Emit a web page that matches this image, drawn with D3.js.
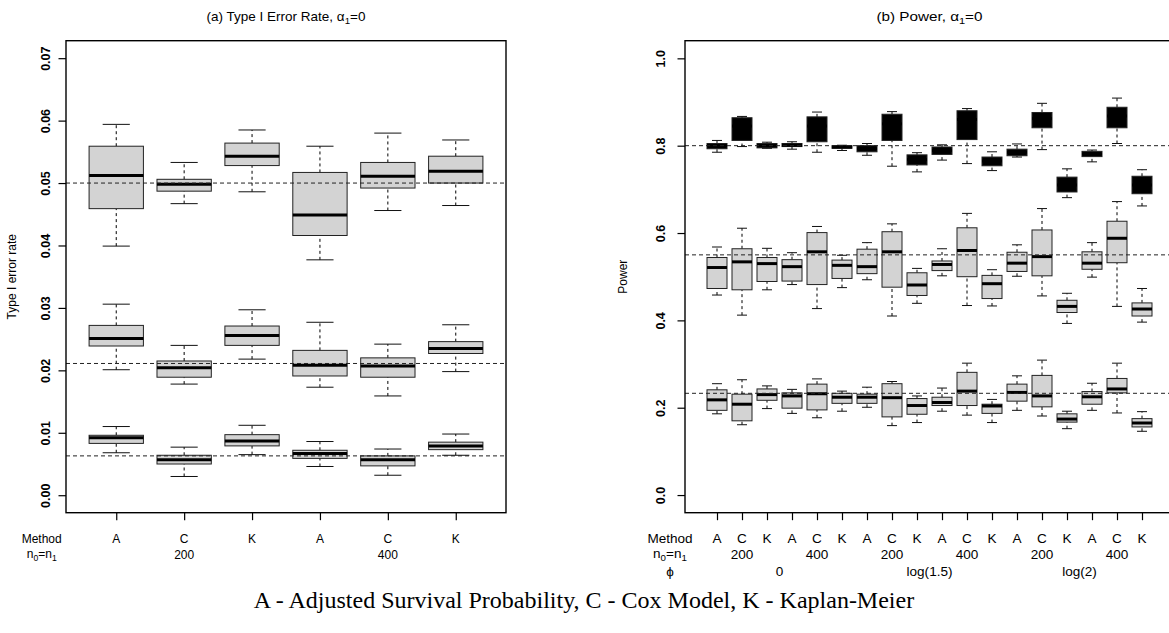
<!DOCTYPE html>
<html>
<head>
<meta charset="utf-8">
<script src="https://cdn.jsdelivr.net/npm/d3@7"></script>
<style>
body { margin: 0; background: #fff; }
svg { display: block; }
text { font-family: "Liberation Sans", Arial, Helvetica, sans-serif; fill: #000; }
</style>
</head>
<body>
<svg id="chart" width="1169" height="633"></svg>
<script>
// box stats: [lower whisker, Q1, median, Q3, upper whisker]
const methodsLeft = ["A", "C", "K", "A", "C", "K"];
const nLeft = [[2, "200"], [5, "400"]];
const typeI_top = [
	[0.0399, 0.0459, 0.0512, 0.0559, 0.0594],
	[0.0467, 0.0487, 0.0498, 0.0506, 0.0533],
	[0.0486, 0.0528, 0.0543, 0.0564, 0.0585],
	[0.0377, 0.0416, 0.0449, 0.0517, 0.0559],
	[0.0456, 0.0492, 0.0511, 0.0533, 0.0580],
	[0.0464, 0.0500, 0.0519, 0.0543, 0.0569]
];
const typeI_mid = [
	[0.0201, 0.0239, 0.0251, 0.0272, 0.0306],
	[0.0178, 0.0189, 0.0204, 0.0215, 0.0240],
	[0.0218, 0.0240, 0.0256, 0.0271, 0.0297],
	[0.0173, 0.0191, 0.0208, 0.0232, 0.0277],
	[0.0159, 0.0189, 0.0207, 0.0220, 0.0242],
	[0.0198, 0.0227, 0.0235, 0.0246, 0.0273]
];
const typeI_low = [
	[0.0068, 0.0083, 0.0092, 0.0096, 0.0110],
	[0.0030, 0.0050, 0.0057, 0.0064, 0.0077],
	[0.0065, 0.0079, 0.0087, 0.0097, 0.0112],
	[0.0046, 0.0059, 0.0067, 0.0072, 0.0086],
	[0.0032, 0.0047, 0.0057, 0.0063, 0.0074],
	[0.0064, 0.0073, 0.0079, 0.0085, 0.0098]
];
const refLeft = [0.05, 0.0211, 0.0063];

const methodsRight = ["A","C","K","A","C","K","A","C","K","A","C","K","A","C","K","A","C","K"];
const nRight = [[2, "200"], [5, "400"], [8, "200"], [11, "400"], [14, "200"], [17, "400"]];
const phiRight = [[3.5, "0"], [9.5, "log(1.5)"], [15.5, "log(2)"]];
const power_top = [
	[0.785, 0.793, 0.800, 0.805, 0.812],
	[0.798, 0.812, 0.845, 0.864, 0.867],
	[0.794, 0.795, 0.800, 0.805, 0.808],
	[0.792, 0.798, 0.801, 0.805, 0.809],
	[0.785, 0.809, 0.845, 0.866, 0.877],
	[0.789, 0.794, 0.797, 0.800, 0.801],
	[0.778, 0.786, 0.793, 0.800, 0.805],
	[0.753, 0.812, 0.850, 0.872, 0.878],
	[0.740, 0.756, 0.768, 0.779, 0.784],
	[0.767, 0.780, 0.789, 0.797, 0.802],
	[0.759, 0.814, 0.860, 0.880, 0.885],
	[0.743, 0.754, 0.765, 0.774, 0.786],
	[0.774, 0.777, 0.785, 0.792, 0.804],
	[0.791, 0.841, 0.862, 0.876, 0.897],
	[0.681, 0.694, 0.710, 0.728, 0.747],
	[0.763, 0.775, 0.781, 0.787, 0.790],
	[0.805, 0.841, 0.868, 0.888, 0.909],
	[0.662, 0.690, 0.710, 0.730, 0.745]
];
const power_mid = [
	[0.458, 0.473, 0.521, 0.544, 0.568],
	[0.412, 0.470, 0.534, 0.564, 0.611],
	[0.470, 0.489, 0.530, 0.544, 0.565],
	[0.482, 0.490, 0.523, 0.539, 0.555],
	[0.427, 0.482, 0.557, 0.601, 0.615],
	[0.475, 0.496, 0.526, 0.538, 0.549],
	[0.493, 0.507, 0.523, 0.563, 0.578],
	[0.410, 0.476, 0.557, 0.603, 0.621],
	[0.439, 0.457, 0.481, 0.509, 0.519],
	[0.502, 0.514, 0.528, 0.536, 0.564],
	[0.434, 0.500, 0.560, 0.612, 0.645],
	[0.433, 0.450, 0.484, 0.503, 0.516],
	[0.501, 0.512, 0.531, 0.556, 0.573],
	[0.456, 0.502, 0.546, 0.607, 0.656],
	[0.393, 0.418, 0.432, 0.446, 0.462],
	[0.499, 0.517, 0.531, 0.557, 0.578],
	[0.432, 0.532, 0.588, 0.627, 0.672],
	[0.396, 0.410, 0.426, 0.440, 0.473]
];
const power_bot = [
	[0.186, 0.194, 0.218, 0.241, 0.255],
	[0.161, 0.170, 0.208, 0.231, 0.264],
	[0.198, 0.217, 0.230, 0.243, 0.250],
	[0.187, 0.199, 0.227, 0.234, 0.242],
	[0.177, 0.195, 0.232, 0.254, 0.266],
	[0.192, 0.210, 0.224, 0.233, 0.238],
	[0.201, 0.210, 0.224, 0.231, 0.247],
	[0.159, 0.179, 0.223, 0.255, 0.260],
	[0.166, 0.185, 0.205, 0.221, 0.227],
	[0.192, 0.205, 0.212, 0.224, 0.245],
	[0.183, 0.205, 0.238, 0.281, 0.302],
	[0.166, 0.187, 0.204, 0.208, 0.219],
	[0.194, 0.215, 0.235, 0.254, 0.273],
	[0.181, 0.202, 0.227, 0.274, 0.309],
	[0.152, 0.167, 0.174, 0.186, 0.192],
	[0.194, 0.208, 0.225, 0.237, 0.256],
	[0.188, 0.234, 0.243, 0.267, 0.302],
	[0.146, 0.156, 0.165, 0.175, 0.191]
];
const refRight = [0.8, 0.55, 0.233];

const svg = d3.select("#chart");
const plotTop = 40.7, plotBottom = 512.7;

// petit helper pour les textes (sx = étirement horizontal du panneau de droite)
function label(g, x, y, sx, size) {
	return g.append("text")
		.attr("transform", `translate(${x},${y}) scale(${sx},1)`)
		.attr("text-anchor", "middle")
		.style("font-size", size + "px");
}
function withSub(t, a, sub, b, sub2) {
	t.append("tspan").text(a);
	t.append("tspan").attr("dy", 3).style("font-size", "0.72em").text(sub);
	t.append("tspan").attr("dy", -3).text(b);
	if (sub2 !== undefined) t.append("tspan").attr("dy", 3).style("font-size", "0.72em").text(sub2);
}

function panel(cfg) {
	let g = svg.append("g");
	let x = d3.scaleLinear().domain(cfg.xdom).range([cfg.x0, cfg.x1]);
	let y = d3.scaleLinear().domain(cfg.ydom).range([plotBottom, plotTop]);
	let hw = x(1.4) - x(1);

	// boîtes
	cfg.rows.forEach((row, r) => {
		let b = g.append("g").selectAll("g").data(row).join("g");
		let cx = (d, i) => x(i + 1);
		b.append("line").attr("x1", cx).attr("x2", cx)
			.attr("y1", d => y(d[3])).attr("y2", d => y(d[4]))
			.attr("stroke", "#000").attr("stroke-dasharray", "3,3");
		b.append("line").attr("x1", cx).attr("x2", cx)
			.attr("y1", d => y(d[0])).attr("y2", d => y(d[1]))
			.attr("stroke", "#000").attr("stroke-dasharray", "3,3");
		for (let k of [0, 4]) {
			b.append("line")
				.attr("x1", (d, i) => x(i + 1) - hw / 2).attr("x2", (d, i) => x(i + 1) + hw / 2)
				.attr("y1", d => y(d[k])).attr("y2", d => y(d[k]))
				.attr("stroke", "#111");
		}
		b.append("rect")
			.attr("x", (d, i) => x(i + 1) - hw)
			.attr("width", 2 * hw)
			.attr("y", d => y(d[3]))
			.attr("height", d => y(d[1]) - y(d[3]))
			.attr("fill", cfg.fills[r])
			.attr("stroke", "#222");
		b.append("line")
			.attr("x1", (d, i) => x(i + 1) - hw).attr("x2", (d, i) => x(i + 1) + hw)
			.attr("y1", d => y(d[2])).attr("y2", d => y(d[2]))
			.attr("stroke", "#000").attr("stroke-width", 3);
	});

	// lignes de référence
	g.append("g").selectAll("line").data(cfg.refs).join("line")
		.attr("x1", cfg.x0).attr("x2", cfg.x1)
		.attr("y1", d => y(d)).attr("y2", d => y(d))
		.attr("stroke", "#222").attr("stroke-dasharray", "4,3");

	// axe y
	let ya = g.append("g")
		.attr("transform", `translate(${cfg.x0},0)`)
		.call(d3.axisLeft(y).tickValues(cfg.yticks).tickSize(7.5).tickFormat(d3.format(cfg.yfmt)));
	ya.select(".domain").remove();
	ya.selectAll("line").attr("stroke-width", 1.2);
	ya.selectAll("text")
		.attr("x", null).attr("dy", "0.36em")
		.attr("transform", `translate(${-cfg.ylabOff},0) rotate(-90)`)
		.attr("text-anchor", "middle")
		.style("font-size", "12.5px").style("font-weight", "bold");
	ya.attr("font-family", null);

	// axe x
	let n = cfg.rows[0].length;
	let xa = g.append("g")
		.attr("transform", `translate(0,${plotBottom})`)
		.call(d3.axisBottom(x).tickValues(d3.range(1, n + 1)).tickSize(7.5).tickFormat(""));
	xa.select(".domain").remove();
	xa.selectAll("line").attr("stroke-width", 1.2);
	cfg.methods.forEach((m, i) => label(g, x(i + 1), 542.5, cfg.sx, 12).text(m));
	label(g, cfg.labX, 542.5, cfg.sx, 12).text("Method");
	withSub(label(g, cfg.labX, 557.5, cfg.sx, 12), "n", "0", "=n", "1");
	cfg.nlab.forEach(([p, t]) => label(g, x(p), 558.5, cfg.sx, 12).text(t));
	if (cfg.phi) {
		label(g, cfg.labX, 576, cfg.sx, 12).text("\u03D5");
		cfg.phi.forEach(([p, t]) => label(g, x(p), 576, cfg.sx, 12).text(t));
	}

	// titres
	g.append("text")
		.attr("transform", `translate(${cfg.ytitleX},${(plotTop + plotBottom) / 2}) rotate(-90)`)
		.attr("text-anchor", "middle")
		.style("font-size", "12px")
		.text(cfg.ytitle);
	withSub(label(g, (cfg.x0 + cfg.x1) / 2, 21, cfg.sx, 13.5), cfg.title, "1", "=0");

	// cadre
	g.append("rect")
		.attr("x", cfg.x0).attr("y", plotTop)
		.attr("width", cfg.x1 - cfg.x0).attr("height", plotBottom - plotTop)
		.attr("fill", "none").attr("stroke", "#000").attr("stroke-width", 1.4);
}

panel({
	x0: 66, x1: 506, xdom: [0.26, 6.74], ydom: [-0.0028, 0.0728],
	rows: [typeI_top, typeI_mid, typeI_low], fills: ["#d3d3d3", "#d3d3d3", "#d3d3d3"],
	refs: refLeft, yticks: d3.range(0, 8).map(d => d / 100), yfmt: ".2f", ylabOff: 21,
	methods: methodsLeft, nlab: nLeft, labX: 41.7, sx: 1,
	ytitle: "Type I error rate", ytitleX: 15.7,
	title: "(a) Type I Error Rate, \u03B1"
});
panel({
	x0: 685, x1: 1174, xdom: [-0.28, 19.28], ydom: [-0.0404, 1.0404],
	rows: [power_top, power_mid, power_bot], fills: ["#000", "#d3d3d3", "#d3d3d3"],
	refs: refRight, yticks: [0, 0.2, 0.4, 0.6, 0.8, 1.0], yfmt: ".1f", ylabOff: 25,
	methods: methodsRight, nlab: nRight, phi: phiRight, labX: 670, sx: 1.13,
	ytitle: "Power", ytitleX: 626.7,
	title: "(b) Power, \u03B1"
});

// légende
svg.append("text")
	.attr("x", 584).attr("y", 608)
	.attr("text-anchor", "middle")
	.style("font-family", "'Liberation Serif', 'Times New Roman', serif")
	.style("font-size", "24px")
	.text("A - Adjusted Survival Probability, C - Cox Model, K - Kaplan-Meier");
</script>
</body>
</html>
